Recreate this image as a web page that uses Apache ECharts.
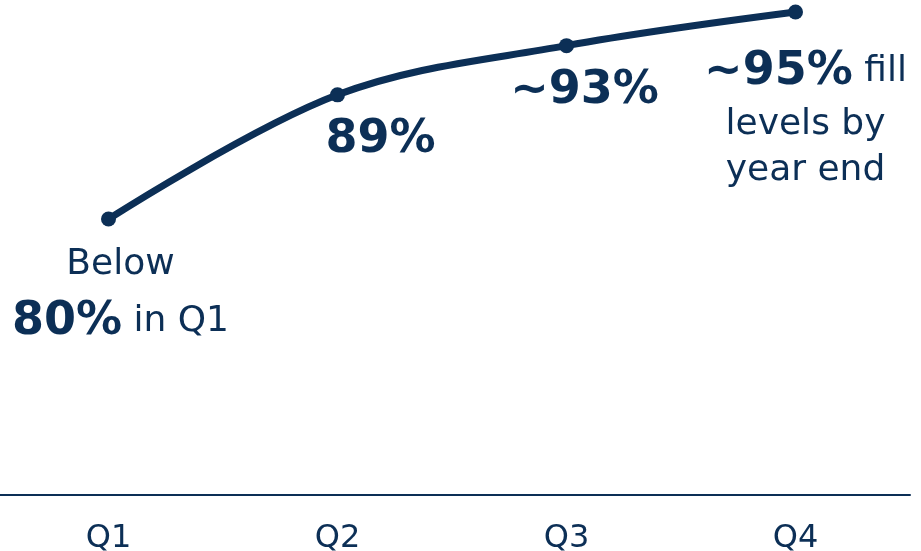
<!DOCTYPE html>
<html>
<head>
<meta charset="utf-8">
<script src="https://cdn.jsdelivr.net/npm/echarts@6/dist/echarts.min.js"></script>
<style>html,body{margin:0;padding:0;background:#fff}#c{width:921px;height:551px}</style>
</head>
<body>
<div id="c"></div>
<script>
const categories = ['Q1', 'Q2', 'Q3', 'Q4'];
const fillLevels = [79, 88.6, 92.4, 95];
const labelTexts = [
  '{r1|Below}\n{b|80%}{r| in Q1}',
  '{b|89%}',
  '{b|~93%}',
  '{b|~95%}{r| fill}\n{r2|levels by}\n{r2|year end}'
];
const labelOffsets = [[12, 19], [43, 15], [18, 15], [10, 30]];

const NAVY = '#0c2f56';
const FONT = '"DejaVu Sans", sans-serif';
const rich = {
  r1: {fontFamily: FONT, fontSize: 36, color: NAVY, lineHeight: 54},
  r: {fontFamily: FONT, fontSize: 36, color: NAVY, lineHeight: 50},
  r2: {fontFamily: FONT, fontSize: 36, color: NAVY, lineHeight: 46},
  b: {fontFamily: FONT, fontSize: 46, fontWeight: 'bold', color: NAVY, lineHeight: 60}
};

const chart = echarts.init(document.getElementById('c'), null, {renderer: 'canvas'});
chart.setOption({
  animation: false,
  grid: {left: -6, right: 11, top: 0, bottom: 56, outerBoundsMode: 'none', containLabel: false},
  xAxis: {
    type: 'category',
    data: categories,
    boundaryGap: true,
    axisLine: {lineStyle: {color: NAVY, width: 2}},
    axisTick: {show: false},
    axisLabel: {color: NAVY, fontFamily: FONT, fontSize: 32, margin: 28}
  },
  yAxis: {type: 'value', min: 57.67, max: 95.93, show: false},
  series: [{
    type: 'line',
    data: fillLevels.map((v, i) => ({
      value: v,
      label: {
        show: true,
        position: 'inside',
        align: 'center',
        verticalAlign: 'top',
        offset: labelOffsets[i],
        formatter: labelTexts[i],
        rich: rich
      }
    })),
    smooth: 0.35,
    symbol: 'circle',
    symbolSize: 15,
    lineStyle: {color: NAVY, width: 7},
    itemStyle: {color: NAVY}
  }]
});
</script>
</body>
</html>
